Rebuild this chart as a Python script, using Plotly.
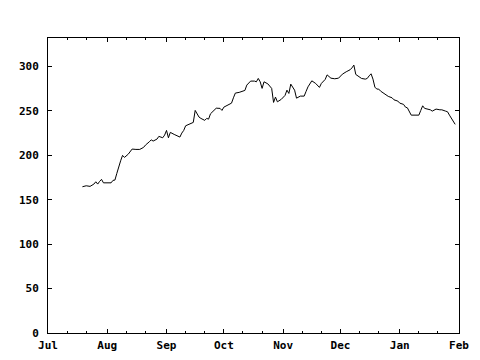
import plotly.graph_objects as go

dates = [
    "2007-07-19", "2007-07-21", "2007-07-23", "2007-07-25", "2007-07-26", "2007-07-27",
    "2007-07-28", "2007-07-29", "2007-07-30", "2007-08-02", "2007-08-03", "2007-08-04",
    "2007-08-05", "2007-08-06", "2007-08-07", "2007-08-08", "2007-08-09", "2007-08-10",
    "2007-08-12", "2007-08-14", "2007-08-16", "2007-08-18", "2007-08-20", "2007-08-21",
    "2007-08-23", "2007-08-24", "2007-08-25", "2007-08-27", "2007-08-28", "2007-08-30",
    "2007-08-31", "2007-09-01", "2007-09-02", "2007-09-03", "2007-09-05", "2007-09-07",
    "2007-09-08", "2007-09-09", "2007-09-10", "2007-09-11", "2007-09-12", "2007-09-13",
    "2007-09-15", "2007-09-16", "2007-09-17", "2007-09-18", "2007-09-19", "2007-09-21",
    "2007-09-22", "2007-09-23", "2007-09-24", "2007-09-26", "2007-09-27", "2007-09-29",
    "2007-09-30", "2007-10-01", "2007-10-03", "2007-10-05", "2007-10-06", "2007-10-07",
    "2007-10-09", "2007-10-11", "2007-10-12", "2007-10-13", "2007-10-15", "2007-10-17",
    "2007-10-18", "2007-10-19", "2007-10-20", "2007-10-21", "2007-10-22", "2007-10-24",
    "2007-10-25", "2007-10-26", "2007-10-27", "2007-10-28", "2007-10-29", "2007-10-31",
    "2007-11-02", "2007-11-03", "2007-11-04", "2007-11-05", "2007-11-07", "2007-11-08",
    "2007-11-10", "2007-11-12", "2007-11-13", "2007-11-14", "2007-11-16", "2007-11-18",
    "2007-11-20", "2007-11-21", "2007-11-23", "2007-11-24", "2007-11-26", "2007-11-28",
    "2007-11-30", "2007-12-02", "2007-12-04", "2007-12-06", "2007-12-07", "2007-12-08",
    "2007-12-09", "2007-12-11", "2007-12-12", "2007-12-14", "2007-12-15", "2007-12-16",
    "2007-12-17", "2007-12-18", "2007-12-19", "2007-12-20", "2007-12-21", "2007-12-22",
    "2007-12-23", "2007-12-25", "2007-12-26", "2007-12-28", "2007-12-29", "2007-12-31",
    "2008-01-01", "2008-01-03", "2008-01-04", "2008-01-05", "2008-01-06", "2008-01-07",
    "2008-01-09", "2008-01-11", "2008-01-12", "2008-01-13", "2008-01-14", "2008-01-17",
    "2008-01-18", "2008-01-20", "2008-01-22", "2008-01-23", "2008-01-25", "2008-01-26",
    "2008-01-27", "2008-01-28", "2008-01-29", "2008-01-30",
]

values = [
    164.6, 165.7, 165.0, 167.6, 170.2, 167.6,
    170.6, 172.9, 169.0, 168.4, 169.0, 171.8,
    172.1, 179.6, 187.9, 193.8, 199.9, 197.6,
    201.3, 207.0, 206.6, 206.6, 208.9, 211.5,
    215.2, 217.4, 216.0, 218.2, 221.3, 219.7,
    222.7, 228.0, 219.7, 225.8, 223.5, 221.3,
    220.5, 225.0, 228.0, 233.2, 234.0, 235.4,
    237.0, 250.5, 246.0, 243.0, 241.5, 239.3,
    241.5, 240.7, 246.7, 251.2, 253.0, 252.8,
    250.5, 254.2, 256.5, 258.7, 264.7, 270.0,
    270.8, 272.2, 273.0, 279.0, 283.5, 283.5,
    282.7, 286.5, 282.7, 275.3, 282.7, 280.4,
    278.2, 275.3, 259.5, 265.5, 260.2, 262.9,
    267.4, 273.3, 269.6, 280.1, 273.3, 264.3,
    266.6, 266.6, 271.9, 277.0, 283.8, 280.9,
    276.4, 280.9, 285.4, 290.5, 286.8, 286.1,
    286.8, 291.3, 294.0, 296.2, 298.4, 301.5,
    291.0, 288.0, 286.5, 285.7, 286.5, 289.4,
    291.7, 285.7, 276.7, 274.5, 274.5, 272.2,
    270.8, 268.5, 266.3, 264.7, 262.4, 261.0,
    258.7, 257.3, 254.2, 253.4, 249.0, 245.2,
    245.2, 245.2, 250.5, 255.7, 252.8, 251.2,
    249.7, 252.0, 251.2, 251.2, 249.7, 249.0,
    245.2, 242.2, 238.5, 234.8,
]

month_ticks = ["2007-07-01", "2007-08-01", "2007-09-01", "2007-10-01",
               "2007-11-01", "2007-12-01", "2008-01-01", "2008-02-01"]
month_labels = ["Jul", "Aug", "Sep", "Oct", "Nov", "Dec", "Jan", "Feb"]
minor_ticks = ["2007-07-11", "2007-07-21", "2007-08-11", "2007-08-21",
               "2007-09-11", "2007-09-21", "2007-10-11", "2007-10-21",
               "2007-11-11", "2007-11-21", "2007-12-11", "2007-12-21",
               "2008-01-11", "2008-01-21"]
y_ticks = [0, 50, 100, 150, 200, 250, 300]

tick_font = dict(family="DejaVu Sans Mono", size=11, color="black", weight="bold")

fig = go.Figure()
fig.add_trace(go.Scatter(x=dates, y=values, mode="lines",
                         line=dict(color="black", width=1), showlegend=False,
                         hoverinfo="skip"))

fig.update_layout(
    width=480, height=360,
    margin=dict(l=40, r=29, t=30, b=35),
    paper_bgcolor="white", plot_bgcolor="white",
    font=dict(family="DejaVu Sans Mono", size=11, color="black"),
    xaxis=dict(
        type="date", range=["2007-07-01", "2008-02-01"],
        tickmode="array", tickvals=month_ticks, ticktext=month_labels,
        ticks="inside", ticklen=4, tickcolor="black", tickwidth=1,
        minor=dict(tickmode="array", tickvals=minor_ticks, ticks="inside",
                   ticklen=2, tickcolor="black", tickwidth=1, showgrid=False),
        showline=True, linecolor="black", linewidth=1, mirror="ticks",
        showgrid=False, zeroline=False,
        tickfont=tick_font,
        ticklabelstandoff=2,
    ),
    yaxis=dict(
        range=[0, 332], tickmode="array", tickvals=y_ticks,
        ticks="inside", ticklen=4, tickcolor="black", tickwidth=1,
        showline=True, linecolor="black", linewidth=1, mirror="ticks",
        showgrid=False, zeroline=False,
        tickfont=tick_font,
        ticklabelstandoff=6,
    ),
)

fig.write_html("out.html")
